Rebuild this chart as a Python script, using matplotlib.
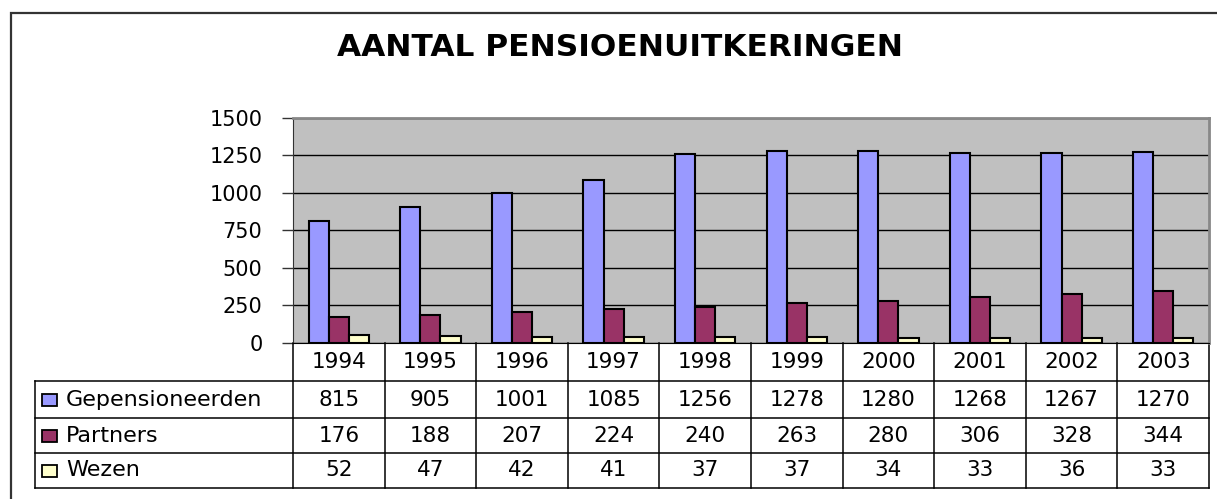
import numpy as np
import matplotlib
matplotlib.use("Agg")
import matplotlib.pyplot as plt
from matplotlib.patches import Rectangle

years = ['1994', '1995', '1996', '1997', '1998', '1999', '2000', '2001', '2002', '2003']
gepensioneerden = [815, 905, 1001, 1085, 1256, 1278, 1280, 1268, 1267, 1270]
partners = [176, 188, 207, 224, 240, 263, 280, 306, 328, 344]
wezen = [52, 47, 42, 41, 37, 37, 34, 33, 36, 33]
series_names = ['Gepensioneerden', 'Partners', 'Wezen']
colors = ['#9999FF', '#993366', '#FFFFCC']
yticks = [0, 250, 500, 750, 1000, 1250, 1500]

plt.rcParams['font.family'] = ['DejaVu Sans']

W, H = 1217, 499
fig = plt.figure(figsize=(W / 100, H / 100), dpi=100)
fig.patch.set_facecolor('white')

# outer chart frame (right/bottom edges lie outside the picture)
fig.patches.append(Rectangle((11 / W, 0 - 0.05), 1.2, 1 - 13 / H + 0.05,
                             transform=fig.transFigure, fill=False,
                             edgecolor='#333333', linewidth=1.6))

ax_l, ax_r, ax_t, ax_b = 293, 1209, 117.7, 343
ax = fig.add_axes([ax_l / W, 1 - ax_b / H, (ax_r - ax_l) / W, (ax_b - ax_t) / H])
ax.set_facecolor('#C0C0C0')

x = np.arange(len(years))
w = 0.22
for i, (vals, c) in enumerate(zip([gepensioneerden, partners, wezen], colors)):
    ax.bar(x + (i - 1) * w, vals, width=w, color=c, edgecolor='black',
           linewidth=1.5, zorder=3)

ax.set_xlim(-0.5, len(years) - 0.5)
ax.set_ylim(0, 1500)
ax.set_yticks(yticks)
ax.set_yticklabels([str(v) for v in yticks], fontsize=15)
ax.yaxis.grid(True, color='black', linewidth=1.0, zorder=1)
ax.set_axisbelow(True)
ax.tick_params(axis='y', length=8, width=1, color='#333333', pad=14)
ax.tick_params(axis='x', length=0, labelbottom=False)
for s in ['top', 'right']:
    ax.spines[s].set_color('#888888')
    ax.spines[s].set_linewidth(2)
ax.spines['left'].set_color('#333333')
ax.spines['bottom'].set_color('black')

fig.text(620 / W, 1 - 47 / H, 'AANTAL PENSIOENUITKERINGEN', ha='center', va='center',
         fontsize=22.5, fontweight='bold')

# data table below the axes
trans = ax.get_xaxis_transform()
ah = ax_b - ax_t
col_px = (ax_r - ax_l) / len(years)
rows_px = [ax_b, 381, 418, 453, 488]
ry = [-(p - ax_b) / ah for p in rows_px]
x_left = -0.5 + (35 - ax_l) / col_px

lkw = dict(transform=trans, clip_on=False, color='black', linewidth=1.1)
# vertical lines
for k in range(len(years) + 1):
    ax.plot([k - 0.5, k - 0.5], [0, ry[-1]], **lkw)
ax.plot([x_left, x_left], [ry[1], ry[-1]], **lkw)
# horizontal lines
for yy in ry[1:]:
    ax.plot([x_left, len(years) - 0.5], [yy, yy], **lkw)

# header row
for xi, yr in zip(x, years):
    ax.text(xi, (ry[0] + ry[1]) / 2, yr, transform=trans, ha='center',
            va='center', fontsize=15.5, clip_on=False)

sq_w = 15 / col_px
sq_h = 12 / ah
for r, (name, vals, c) in enumerate(zip(series_names,
                                        [gepensioneerden, partners, wezen], colors)):
    yc = (ry[r + 1] + ry[r + 2]) / 2
    ax.add_patch(Rectangle((-0.5 + (42 - ax_l) / col_px, yc - sq_h / 2), sq_w, sq_h,
                           transform=trans, facecolor=c, edgecolor='black',
                           linewidth=1.3, clip_on=False))
    ax.text(-0.5 + (66 - ax_l) / col_px, yc, name, transform=trans, ha='left',
            va='center', fontsize=16, clip_on=False)
    for xi, v in zip(x, vals):
        ax.text(xi, yc, str(v), transform=trans, ha='center', va='center',
                fontsize=15.5, clip_on=False)

fig.savefig('out.png', dpi=100)
